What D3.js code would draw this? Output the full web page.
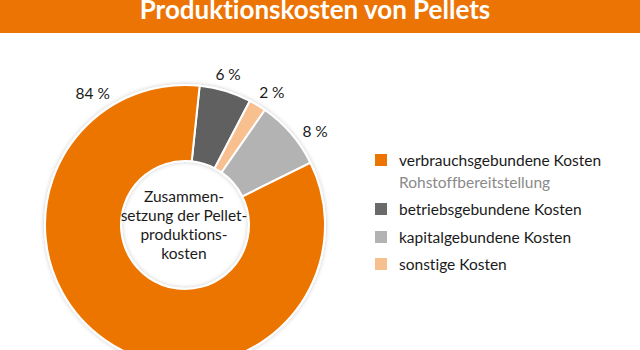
<!DOCTYPE html>
<html><head><meta charset="utf-8">
<script src="https://cdn.jsdelivr.net/npm/d3@7"></script>
<style>body{margin:0;background:#fff}svg{display:block}text{font-family:Lato,"Noto Sans",sans-serif;font-variant-ligatures:none;font-feature-settings:"liga" 0}</style>
</head><body>
<svg id="c" width="640" height="350"></svg>
<script>
const title = "Produktionskosten von Pellets";
const categories = ["betriebsgebundene Kosten","sonstige Kosten","kapitalgebundene Kosten","verbrauchsgebundene Kosten"];
const values = [6, 2, 8, 84];
const labels = ["6\u202F%","2\u202F%","8\u202F%","84\u202F%"];
const colors = ["#606060","#f8bf8f","#b3b3b3","#ec7404"];
const legendItems = ["verbrauchsgebundene Kosten","betriebsgebundene Kosten","kapitalgebundene Kosten","sonstige Kosten"];
const legendColors = ["#ec7404","#6a6a6a","#b3b3b3","#f8bf8f"];
const legendSub = "Rohstoffbereitstellung";
const centerLines = ["Zusammen-","setzung der Pellet-","produktions-","kosten"];

const svg = d3.select("#c");
const W = 640;
// title bar
svg.append("rect").attr("x",0).attr("y",0).attr("width",W).attr("height",33).attr("fill","#ec7404");
svg.append("text").attr("x",315).attr("y",19).attr("text-anchor","middle")
  .attr("fill","#fff").attr("font-size",26).attr("font-weight","bold").text(title);

const defs = svg.append("defs");
const f = defs.append("filter").attr("id","sh").attr("x","-20%").attr("y","-20%").attr("width","140%").attr("height","140%");
f.append("feDropShadow").attr("dx",0).attr("dy",0).attr("stdDeviation",2).attr("flood-color","#000").attr("flood-opacity",0.22);

const cx = 185, cy = 225, R = 140, r = 64;
const startA = 6 * Math.PI / 180;
const pie = d3.pie().sort(null).value(d => d).startAngle(startA).endAngle(startA + 2*Math.PI);
const arcs = pie(values);
const arc = d3.arc().innerRadius(r).outerRadius(R);
const g = svg.append("g").attr("transform",`translate(${cx},${cy})`);
const gs = g.append("g").attr("filter","url(#sh)");
gs.selectAll("path").data(arcs).join("path")
  .attr("d",arc).attr("fill",(d,i)=>colors[i]).attr("stroke","#fff").attr("stroke-width",2);

// labels
const labelArc = d3.arc().innerRadius(R+16).outerRadius(R+16);
const labelOffsets = [[-2,-2],[6,0],[12,8],[2,-3]];
g.selectAll("text.lbl").data(arcs).join("text").attr("class","lbl")
  .attr("transform",(d,i)=>{
    let p;
    if (i===3) { p = d3.arc().innerRadius(R+20).outerRadius(R+20).centroid({startAngle:-0.63,endAngle:-0.63}); }
    else p = labelArc.centroid(d);
    return `translate(${p[0]+labelOffsets[i][0]},${p[1]+labelOffsets[i][1]})`;
  })
  .attr("text-anchor","middle").attr("dominant-baseline","central")
  .attr("font-size",15.5).attr("fill","#1a1a1a").text((d,i)=>labels[i]);

// center text
g.append("text").attr("text-anchor","middle").attr("font-size",15.5).attr("fill","#1a1a1a")
  .selectAll("tspan").data(centerLines).join("tspan")
  .attr("x",-1).attr("y",(d,i)=>-23 + i*19).text(d=>d);

// legend
const ly = d3.scaleOrdinal().domain(legendItems).range([160,209,237,264]);
const lg = svg.append("g");
legendItems.forEach((t,i)=>{
  lg.append("rect").attr("x",375).attr("y",ly(t)-6).attr("width",12).attr("height",12).attr("fill",legendColors[i]);
  lg.append("text").attr("x",399).attr("y",ly(t)).attr("dominant-baseline","central")
    .attr("font-size",15.5).attr("fill","#1a1a1a").text(t);
});
lg.append("text").attr("x",399).attr("y",182).attr("dominant-baseline","central")
  .attr("font-size",15.5).attr("fill","#8a8a8a").text(legendSub);
</script>
</body></html>
